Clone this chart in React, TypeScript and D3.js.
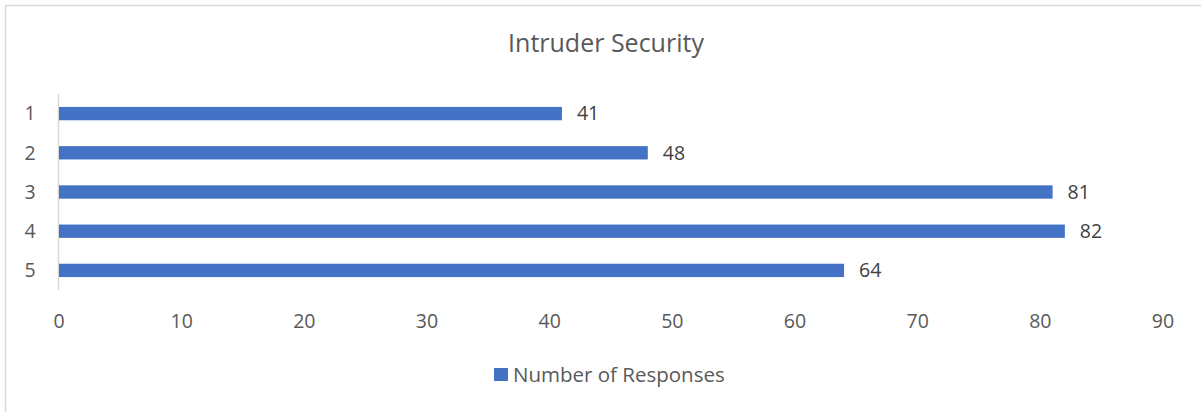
import React from "react";
import * as d3 from "d3";

const categories = ["1", "2", "3", "4", "5"];
const values = [41, 48, 81, 82, 64];
const xTicks = [0, 10, 20, 30, 40, 50, 60, 70, 80, 90];
const title = "Intruder Security";
const seriesName = "Number of Responses";

const W = 1201;
const H = 412;
const FONT = "'Open Sans', 'Noto Sans', sans-serif";
const TEXT = "#595959";
const BAR = "#4472C4";
const FS = 19.5;

export default function App() {
  const x = d3.scaleLinear().domain([0, 90]).range([59, 1163]);
  const y = d3.scaleBand().domain(categories).range([94, 290]).paddingInner(0.66).paddingOuter(0.33);

  return (
    <svg width={W} height={H} style={{ position: "absolute", left: 0, top: 0, background: "#fff" }} fontFamily={FONT}>
      <rect x={5.5} y={5.5} width={W + 10} height={H + 10} fill="#fff" stroke="#d9d9d9" strokeWidth={1.5} />
      <text x={606} y={52} textAnchor="middle" fontSize={25} fill={TEXT}>{title}</text>
      <line x1={x(0) - 0.5} x2={x(0) - 0.5} y1={94} y2={290} stroke="#d9d9d9" strokeWidth={1.5} />
      {categories.map((c, i) => (
        <g key={c}>
          <rect x={x(0)} y={y(c)!} width={x(values[i]) - x(0)} height={y.bandwidth()} fill={BAR} />
          <text x={30} y={y(c)! + y.bandwidth() / 2} dy="0.35em" textAnchor="middle" fontSize={FS} fill={TEXT}>{c}</text>
          <text x={x(values[i]) + 15} y={y(c)! + y.bandwidth() / 2} dy="0.35em" textAnchor="start" fontSize={FS} fill="#404040">{values[i]}</text>
        </g>
      ))}
      {xTicks.map((t) => (
        <text key={t} x={x(t)} y={321} dy="0.35em" textAnchor="middle" fontSize={FS} fill={TEXT}>{t}</text>
      ))}
      <rect x={494} y={368} width={14} height={13} fill={BAR} />
      <text x={513} y={375} dy="0.35em" fontSize={20.5} fill={TEXT}>{seriesName}</text>
    </svg>
  );
}
